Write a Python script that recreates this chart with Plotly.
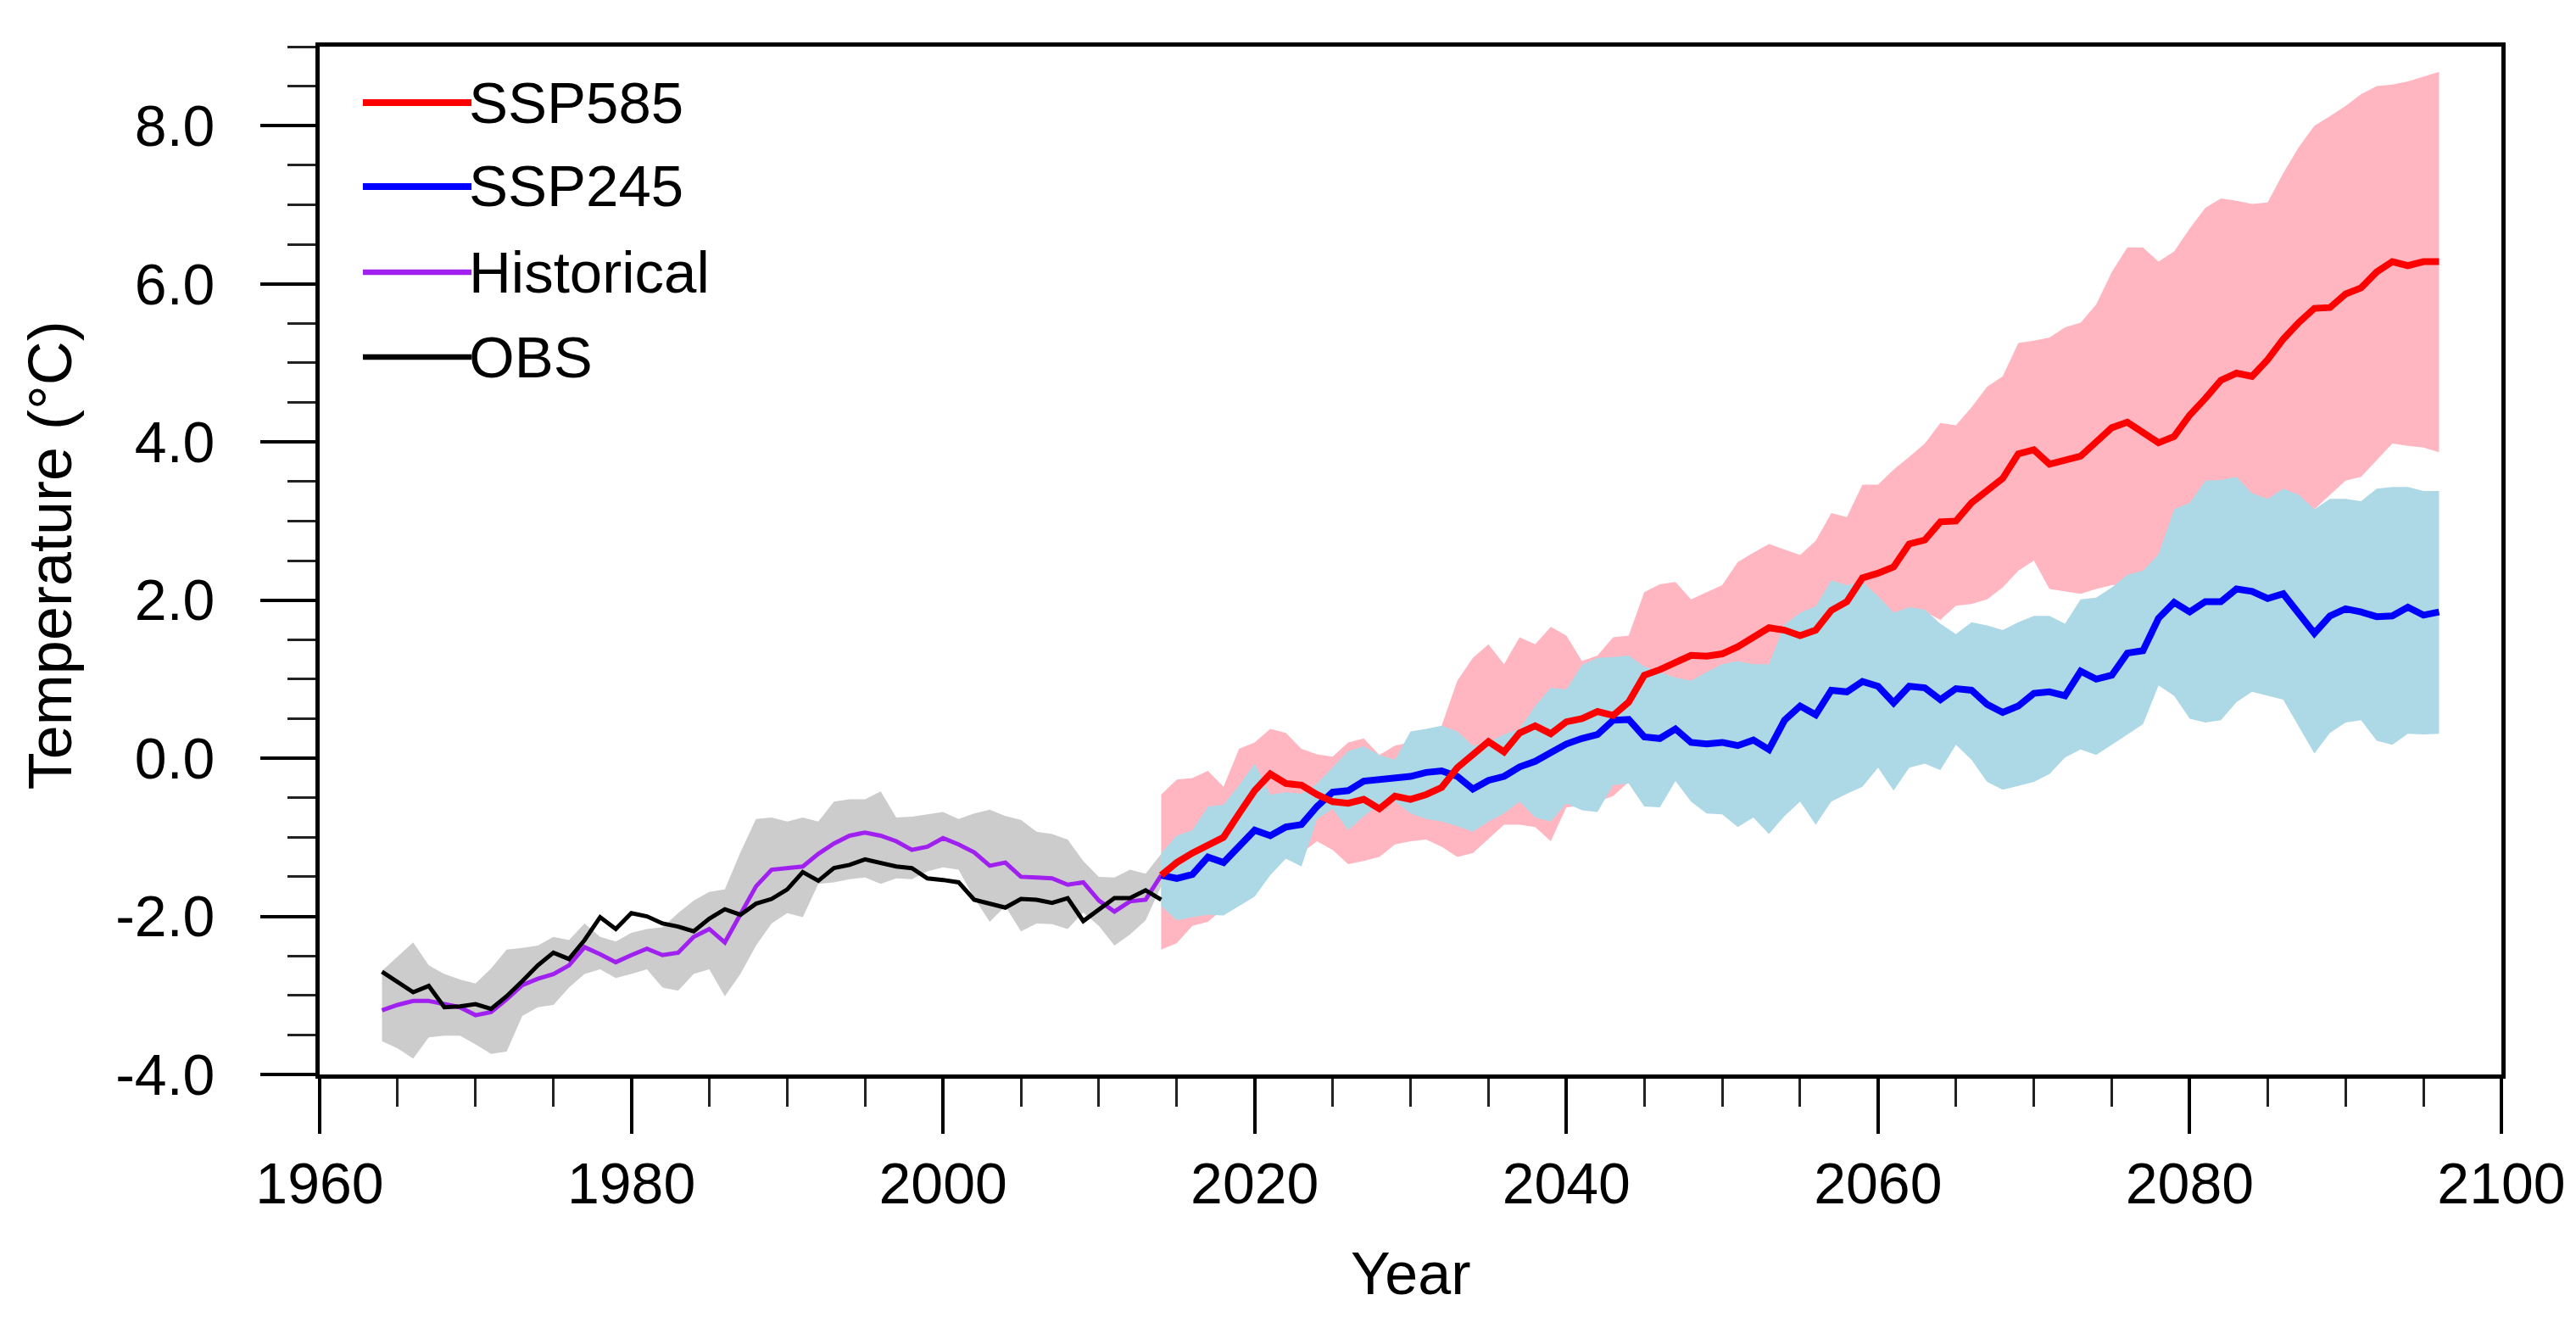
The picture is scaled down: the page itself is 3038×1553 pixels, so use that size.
import plotly.graph_objects as go

# ---------------- data ----------------
hist_years = list(range(1964, 2015))
obs = [-2.70, -2.83, -2.96, -2.88, -3.15, -3.14,
       -3.11, -3.17, -3.01, -2.82, -2.62, -2.46, -2.54, -2.30, -2.01, -2.16,
       -1.96, -2.00, -2.09, -2.13, -2.19, -2.03, -1.91, -1.98, -1.84, -1.78,
       -1.66, -1.44, -1.55, -1.39, -1.35, -1.28, -1.32, -1.37, -1.39, -1.52,
       -1.54, -1.57, -1.79, -1.84, -1.89, -1.78, -1.79, -1.83, -1.77, -2.06,
       -1.91, -1.77, -1.77, -1.67, -1.79]
historical = [-3.19, -3.12, -3.07, -3.07, -3.11, -3.15,
              -3.25, -3.21, -3.05, -2.87, -2.79, -2.73, -2.62, -2.39, -2.48, -2.58,
              -2.49, -2.41, -2.49, -2.46, -2.26, -2.16, -2.33, -1.98, -1.62, -1.41,
              -1.39, -1.37, -1.21, -1.08, -0.98, -0.94, -0.98, -1.05, -1.16, -1.12,
              -1.01, -1.09, -1.19, -1.36, -1.32, -1.50, -1.51, -1.52, -1.60, -1.57,
              -1.80, -1.94, -1.81, -1.79, -1.48]
hist_hi = [-2.69, -2.51, -2.33, -2.62, -2.73, -2.80,
           -2.85, -2.66, -2.42, -2.40, -2.37, -2.26, -2.30, -2.09, -2.26, -2.32,
           -2.21, -2.16, -2.14, -1.96, -1.80, -1.69, -1.66, -1.19, -0.77, -0.75,
           -0.80, -0.75, -0.80, -0.55, -0.52, -0.52, -0.42, -0.75, -0.74, -0.71,
           -0.68, -0.77, -0.70, -0.65, -0.73, -0.78, -0.93, -0.96, -1.03, -1.30,
           -1.50, -1.51, -1.41, -1.46, -1.21]
hist_lo = [-3.58, -3.67, -3.80, -3.53, -3.51, -3.51,
           -3.62, -3.74, -3.71, -3.26, -3.15, -3.12, -2.90, -2.73, -2.67, -2.78,
           -2.73, -2.67, -2.90, -2.94, -2.73, -2.67, -3.01, -2.73, -2.37, -2.09,
           -1.96, -2.01, -1.59, -1.57, -1.53, -1.51, -1.59, -1.52, -1.53, -1.43,
           -1.38, -1.41, -1.77, -2.07, -1.87, -2.19, -2.09, -2.10, -2.16, -1.95,
           -2.12, -2.37, -2.23, -2.05, -1.62]

ssp_years = list(range(2014, 2097))
ssp585 = [-1.48, -1.32, -1.20, -1.11, -1.00, -0.70,
          -0.41, -0.20, -0.32, -0.34, -0.46, -0.55, -0.57, -0.52, -0.64, -0.48,
          -0.52, -0.46, -0.37, -0.12, 0.05, 0.21, 0.08, 0.32, 0.41, 0.31,
          0.46, 0.50, 0.59, 0.54, 0.71, 1.05, 1.12, 1.21, 1.30, 1.29,
          1.32, 1.41, 1.53, 1.65, 1.62, 1.55, 1.62, 1.87, 1.98, 2.28,
          2.34, 2.42, 2.71, 2.76, 2.99, 3.00, 3.23, 3.38, 3.54, 3.85,
          3.90, 3.72, 3.78, 3.82, 4.00, 4.18, 4.25, 4.12, 3.99, 4.07,
          4.34, 4.55, 4.78, 4.87, 4.83, 5.04, 5.30, 5.51, 5.69, 5.70,
          5.87, 5.95, 6.15, 6.28, 6.23, 6.28, 6.28]
ssp585_hi = [-0.46, -0.27, -0.25, -0.16, -0.36, 0.12,
             0.20, 0.37, 0.32, 0.12, 0.05, 0.02, 0.20, 0.25, 0.04, 0.16,
             0.20, 0.30, 0.41, 0.98, 1.27, 1.44, 1.19, 1.53, 1.44, 1.66,
             1.55, 1.23, 1.30, 1.53, 1.55, 2.10, 2.20, 2.23, 2.01, 2.10,
             2.19, 2.48, 2.60, 2.71, 2.64, 2.57, 2.75, 3.10, 3.05, 3.46,
             3.46, 3.65, 3.81, 3.98, 4.24, 4.21, 4.44, 4.70, 4.83, 5.25,
             5.28, 5.32, 5.45, 5.51, 5.74, 6.15, 6.46, 6.46, 6.28, 6.41,
             6.70, 6.96, 7.08, 7.05, 7.01, 7.03, 7.40, 7.73, 8.00, 8.12,
             8.25, 8.40, 8.50, 8.52, 8.56, 8.62, 8.68]
ssp585_lo = [-2.42, -2.34, -2.12, -2.07, -1.90, -1.80,
             -1.60, -1.40, -1.20, -1.20, -1.05, -1.16, -1.34, -1.30, -1.25, -1.09,
             -1.05, -1.03, -1.12, -1.25, -1.20, -1.02, -0.84, -0.84, -0.87, -1.05,
             -0.62, -0.60, -0.55, -0.48, -0.30, -0.20, -0.10, 0.00, 0.10, 0.20,
             0.30, 0.35, 0.50, 0.60, 0.80, 0.90, 1.00, 1.20, 1.30, 1.50,
             1.60, 1.70, 1.80, 1.85, 1.75, 1.93, 1.95, 2.01, 2.16, 2.37,
             2.50, 2.14, 2.11, 2.08, 2.14, 2.19, 2.20, 2.30, 2.50, 2.80,
             3.00, 3.30, 3.30, 3.30, 3.20, 3.20, 3.30, 3.30, 3.15, 3.33,
             3.51, 3.56, 3.77, 3.98, 3.95, 3.93, 3.87]
ssp245 = [-1.48, -1.52, -1.47, -1.25, -1.32, -1.12,
          -0.91, -0.98, -0.87, -0.84, -0.61, -0.43, -0.41, -0.29, -0.27, -0.24,
          -0.23, -0.18, -0.16, -0.23, -0.39, -0.28, -0.23, -0.11, -0.04, 0.07,
          0.18, 0.25, 0.30, 0.48, 0.49, 0.27, 0.25, 0.37, 0.20, 0.18,
          0.20, 0.16, 0.23, 0.11, 0.48, 0.66, 0.55, 0.86, 0.84, 0.97,
          0.91, 0.70, 0.91, 0.89, 0.74, 0.88, 0.86, 0.68, 0.58, 0.66,
          0.82, 0.84, 0.79, 1.10, 1.00, 1.05, 1.33, 1.36, 1.77, 1.97,
          1.85, 1.98, 1.98, 2.14, 2.11, 2.02, 2.08, 1.83, 1.58, 1.80,
          1.89, 1.85, 1.79, 1.80, 1.91, 1.81, 1.85]
ssp245_hi = [-1.20, -0.98, -0.91, -0.61, -0.59, -0.34,
             -0.07, -0.46, -0.43, -0.45, -0.32, -0.11, 0.09, 0.15, 0.04, -0.02,
             0.34, 0.37, 0.41, 0.34, 0.16, 0.20, 0.30, 0.37, 0.66, 0.89,
             0.87, 1.18, 1.27, 1.28, 1.30, 1.16, 1.09, 1.02, 0.98, 1.09,
             1.19, 1.23, 1.19, 1.19, 1.69, 1.84, 1.92, 2.25, 2.19, 2.23,
             2.05, 1.84, 1.91, 1.88, 1.70, 1.57, 1.72, 1.68, 1.62, 1.72,
             1.80, 1.80, 1.70, 2.01, 2.03, 2.16, 2.32, 2.37, 2.58, 3.15,
             3.23, 3.51, 3.52, 3.56, 3.35, 3.28, 3.41, 3.33, 3.15, 3.28,
             3.28, 3.25, 3.41, 3.43, 3.43, 3.38, 3.38]
ssp245_lo = [-1.87, -2.05, -2.01, -1.98, -1.99, -1.87,
             -1.75, -1.48, -1.27, -1.37, -0.77, -0.64, -0.91, -0.73, -0.59, -0.55,
             -0.70, -0.77, -0.80, -0.86, -0.93, -0.80, -0.70, -0.55, -0.75, -0.80,
             -0.57, -0.66, -0.68, -0.34, -0.32, -0.61, -0.62, -0.29, -0.55, -0.70,
             -0.71, -0.87, -0.75, -0.96, -0.73, -0.55, -0.84, -0.55, -0.45, -0.36,
             -0.12, -0.41, -0.12, -0.07, -0.15, 0.17, -0.02, -0.30, -0.40, -0.35,
             -0.30, -0.20, 0.01, 0.11, 0.04, 0.17, 0.30, 0.43, 0.92, 0.79,
             0.50, 0.45, 0.48, 0.71, 0.84, 0.79, 0.74, 0.40, 0.06, 0.32,
             0.45, 0.48, 0.22, 0.17, 0.31, 0.30, 0.31]

x_tickvals = [1960, 1980, 2000, 2020, 2040, 2060, 2080, 2100]
x_ticktext = ["1960", "1980", "2000", "2020", "2040", "2060", "2080", "2100"]
y_tickvals = [-4, -2, 0, 2, 4, 6, 8]
y_ticktext = ["-4.0", "-2.0", "0.0", "2.0", "4.0", "6.0", "8.0"]

legend_names = ["SSP585", "SSP245", "Historical", "OBS"]
legend_colors = ["#FF0000", "#0000FF", "#A020F0", "#000000"]
legend_widths = [8, 8, 6.5, 6.5]

# ---------------- figure ----------------
FONT = "Liberation Sans, Arial, Helvetica, sans-serif"
fig = go.Figure()


def band(x, lo, hi, color):
    fig.add_trace(go.Scatter(x=x, y=lo, mode="lines", line=dict(width=0, color=color),
                             showlegend=False, hoverinfo="skip"))
    fig.add_trace(go.Scatter(x=x, y=hi, mode="lines", line=dict(width=0, color=color),
                             fill="tonexty", fillcolor=color, showlegend=False,
                             hoverinfo="skip"))


band(hist_years, hist_lo, hist_hi, "#CCCCCC")
band(ssp_years, ssp585_lo, ssp585_hi, "#FFB6C1")
band(ssp_years, ssp245_lo, ssp245_hi, "#ADD8E6")

fig.add_trace(go.Scatter(x=hist_years, y=historical, mode="lines", name="Historical",
                         line=dict(color="#A020F0", width=5), showlegend=False))
fig.add_trace(go.Scatter(x=hist_years, y=obs, mode="lines", name="OBS",
                         line=dict(color="#000000", width=5), showlegend=False))
fig.add_trace(go.Scatter(x=ssp_years, y=ssp245, mode="lines", name="SSP245",
                         line=dict(color="#0000FF", width=8), showlegend=False))
fig.add_trace(go.Scatter(x=ssp_years, y=ssp585, mode="lines", name="SSP585",
                         line=dict(color="#FF0000", width=8), showlegend=False))

# manual legend
leg_y = [0.9455, 0.8639, 0.7805, 0.6980]
for name, col, w, yy in zip(legend_names, legend_colors, legend_widths, leg_y):
    fig.add_shape(type="line", xref="paper", yref="paper", x0=0.0198, x1=0.0696,
                  y0=yy, y1=yy, line=dict(color=col, width=w))
    fig.add_annotation(xref="paper", yref="paper", x=0.0678, y=yy, text=name,
                       showarrow=False, xanchor="left", yanchor="middle",
                       font=dict(family=FONT, size=69, color="black"))

fig.add_annotation(xref="paper", yref="paper", x=-0.1235, y=0.505,
                   text="Temperature (°C)", textangle=-90, showarrow=False,
                   xanchor="center", yanchor="middle",
                   font=dict(family=FONT, size=72, color="black"))
fig.add_annotation(xref="paper", yref="paper", x=0.5, y=-0.194,
                   text="Year", showarrow=False, xanchor="center", yanchor="middle",
                   font=dict(family=FONT, size=70, color="black"))

axis_common = dict(showgrid=False, zeroline=False, showline=True, linecolor="black",
                   linewidth=5, mirror=True, ticks="outside", tickcolor="black",
                   tickwidth=4, ticklen=65,
                   tickfont=dict(family=FONT, size=68, color="black"))

fig.update_xaxes(range=[1960, 2100], tickmode="array", tickvals=x_tickvals,
                 ticktext=x_ticktext, ticklabelstandoff=0,
                 minor=dict(dtick=5, tick0=1960, ticks="outside", ticklen=33,
                            tickwidth=3, tickcolor="#222222"),
                 **axis_common)
fig.update_yaxes(range=[-4, 9], tickmode="array", tickvals=y_tickvals,
                 ticktext=y_ticktext, ticklabelstandoff=40,
                 minor=dict(dtick=0.5, tick0=-4, ticks="outside", ticklen=33,
                            tickwidth=3, tickcolor="#222222"),
                 **axis_common)

fig.update_layout(width=3038, height=1553, plot_bgcolor="white", paper_bgcolor="white",
                  margin=dict(l=369, r=96, t=47, b=294), showlegend=False,
                  font=dict(family=FONT, size=68, color="black"))

fig.write_html("out.html")
